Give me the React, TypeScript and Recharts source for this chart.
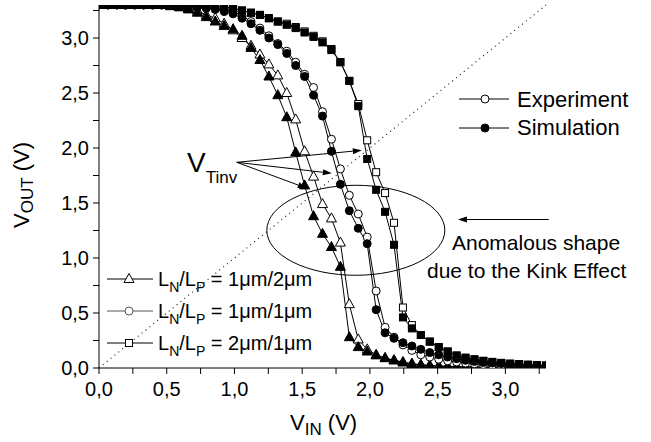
import React from "react";
import {
  LineChart,
  Line,
  XAxis,
  YAxis,
  ReferenceLine,
  ReferenceDot,
} from "recharts";

// input voltage sweep (V), shared by every curve
const VIN = [
  0.0, 0.066, 0.132, 0.198, 0.264, 0.33, 0.396, 0.462, 0.528, 0.594,
  0.66, 0.726, 0.792, 0.858, 0.924, 0.99, 1.056, 1.122, 1.188, 1.254,
  1.32, 1.386, 1.452, 1.518, 1.584, 1.65, 1.716, 1.782, 1.848, 1.914,
  1.98, 2.046, 2.112, 2.178, 2.244, 2.31, 2.376, 2.442, 2.508, 2.574,
  2.64, 2.706, 2.772, 2.838, 2.904, 2.97, 3.036, 3.102, 3.168, 3.234, 3.3,
];

// LN/LP = 1um/2um (triangles)
const A_EXP = [
  3.3, 3.3, 3.3, 3.3, 3.3, 3.3, 3.3, 3.3, 3.29, 3.28,
  3.27, 3.25, 3.21, 3.18, 3.13, 3.07, 3.0, 2.93, 2.85, 2.76,
  2.66, 2.5, 2.26, 1.97, 1.74, 1.49, 1.36, 1.14, 0.58, 0.26,
  0.17, 0.12, 0.09, 0.07, 0.055, 0.04, 0.03, 0.025, 0.02, 0.016,
  0.013, 0.011, 0.01, 0.009, 0.008, 0.007, 0.006, 0.006, 0.005, 0.005, 0.005,
];
const A_SIM = [
  3.3, 3.3, 3.3, 3.3, 3.3, 3.3, 3.3, 3.3, 3.29, 3.28,
  3.26, 3.23, 3.19, 3.15, 3.11, 3.08, 3.02, 2.91, 2.8, 2.65,
  2.48, 2.28, 1.96, 1.66, 1.38, 1.22, 1.1, 0.92, 0.28, 0.19,
  0.15, 0.115, 0.09, 0.07, 0.05, 0.035, 0.027, 0.02, 0.016, 0.013,
  0.011, 0.01, 0.009, 0.008, 0.007, 0.006, 0.006, 0.005, 0.005, 0.005, 0.005,
];

// LN/LP = 1um/1um (circles)
const B_EXP = [
  3.3, 3.3, 3.3, 3.3, 3.3, 3.3, 3.3, 3.3, 3.3, 3.3,
  3.29, 3.29, 3.28, 3.27, 3.26, 3.24, 3.2, 3.15, 3.09, 3.02,
  2.95, 2.88, 2.78, 2.67, 2.55, 2.33, 2.08, 1.81, 1.57, 1.4,
  1.19, 0.7, 0.37, 0.28, 0.21, 0.16, 0.12, 0.1, 0.08, 0.065,
  0.055, 0.045, 0.038, 0.032, 0.027, 0.023, 0.02, 0.018, 0.015, 0.013, 0.012,
];
const B_SIM = [
  3.3, 3.3, 3.3, 3.3, 3.3, 3.3, 3.3, 3.3, 3.3, 3.3,
  3.29, 3.28, 3.27, 3.26, 3.24, 3.22, 3.18, 3.13, 3.07, 3.0,
  2.94, 2.86, 2.75, 2.65, 2.48, 2.29, 1.97, 1.67, 1.43, 1.27,
  1.13, 0.53, 0.32, 0.27, 0.23, 0.2, 0.17, 0.14, 0.12, 0.1,
  0.085, 0.07, 0.06, 0.05, 0.045, 0.04, 0.035, 0.03, 0.026, 0.023, 0.02,
];

// LN/LP = 2um/1um (squares)
const C_EXP = [
  3.3, 3.3, 3.3, 3.3, 3.3, 3.3, 3.3, 3.3, 3.3, 3.3,
  3.3, 3.3, 3.3, 3.29, 3.28, 3.27, 3.25, 3.23, 3.21, 3.18,
  3.15, 3.13, 3.1, 3.06, 3.02, 2.97, 2.9, 2.78, 2.61, 2.4,
  2.07, 1.78, 1.59, 1.32, 0.55, 0.39, 0.3, 0.24, 0.19, 0.15,
  0.11, 0.09, 0.075, 0.062, 0.052, 0.044, 0.038, 0.033, 0.029, 0.025, 0.022,
];
const C_SIM = [
  3.3, 3.3, 3.3, 3.3, 3.3, 3.3, 3.3, 3.3, 3.3, 3.3,
  3.3, 3.3, 3.3, 3.29, 3.28, 3.27, 3.25, 3.23, 3.21, 3.18,
  3.15, 3.12, 3.09, 3.05, 3.01, 2.96, 2.89, 2.78, 2.61, 2.38,
  1.9, 1.62, 1.42, 1.12, 0.46, 0.36, 0.3, 0.24, 0.19, 0.15,
  0.115, 0.095, 0.08, 0.066, 0.056, 0.047, 0.04, 0.035, 0.03, 0.026, 0.023,
];

const TICKS = [0, 0.25, 0.5, 0.75, 1, 1.25, 1.5, 1.75, 2, 2.25, 2.5, 2.75, 3, 3.25];

const FONT = "'Liberation Sans', Arial, sans-serif";

const data = VIN.map((v, i) => ({
  vin: v,
  aExp: A_EXP[i],
  aSim: A_SIM[i],
  bExp: B_EXP[i],
  bSim: B_SIM[i],
  cExp: C_EXP[i],
  cSim: C_SIM[i],
}));

// only every second tick carries a label
const fmt = (v: number) =>
  Math.abs((v * 2) % 1) < 1e-6 ? v.toFixed(1).replace(".", ",") : "";

function Marker({ cx, cy, shape, filled, stroke = "#000" }: any) {
  const fill = filled ? "#000" : "#fff";
  if (shape === "tri") {
    return (
      <polygon
        points={`${cx},${cy - 5.5} ${cx - 5},${cy + 3.5} ${cx + 5},${cy + 3.5}`}
        fill={fill}
        stroke={stroke}
        strokeWidth={1}
      />
    );
  }
  if (shape === "sq") {
    return (
      <rect x={cx - 3.5} y={cy - 3.5} width={7} height={7} fill={fill} stroke={stroke} strokeWidth={1} />
    );
  }
  return <circle cx={cx} cy={cy} r={4} fill={fill} stroke={stroke} strokeWidth={1} />;
}

const dotFor = (name: string, shape: string, filled: boolean) => (p: any) =>
  p.cx == null || p.cy == null ? (
    <g key={`${name}-${p.index}`} />
  ) : (
    <Marker key={`${name}-${p.index}`} cx={p.cx} cy={p.cy} shape={shape} filled={filled} />
  );

// line with a small filled arrowhead at (x2, y2)
function Arrow(props: any) {
  const { x1, y1, x2, y2 } = props;
  const a = Math.atan2(y2 - y1, x2 - x1);
  const len = 9;
  const w = 3;
  const bx = x2 - len * Math.cos(a);
  const by = y2 - len * Math.sin(a);
  const px = -Math.sin(a) * w;
  const py = Math.cos(a) * w;
  return (
    <g>
      <line x1={x1} y1={y1} x2={bx} y2={by} stroke="#000" strokeWidth={1} />
      <polygon points={`${x2},${y2} ${bx + px},${by + py} ${bx - px},${by - py}`} fill="#000" />
    </g>
  );
}

const SERIES = [
  { key: "aExp", shape: "tri", filled: false },
  { key: "aSim", shape: "tri", filled: true },
  { key: "bExp", shape: "circ", filled: false },
  { key: "bSim", shape: "circ", filled: true },
  { key: "cExp", shape: "sq", filled: false },
  { key: "cSim", shape: "sq", filled: true },
];

export default function App() {
  return (
    <div style={{ position: "absolute", left: 0, top: 0, width: 651, height: 442, background: "#fff" }}>
      <LineChart width={651} height={442} data={data} margin={{ top: 5, right: 105, bottom: 44, left: 39 }}>
        <XAxis
          type="number"
          dataKey="vin"
          domain={[0, 3.3]}
          ticks={TICKS}
          interval={0}
          tickFormatter={fmt}
          tickSize={6}
          tickMargin={8}
          height={30}
          stroke="#000"
          tick={{ fill: "#000", fontSize: 20, fontFamily: FONT }}
          allowDataOverflow
        />
        <YAxis
          type="number"
          domain={[0, 3.3]}
          ticks={TICKS}
          interval={0}
          tickFormatter={fmt}
          tickSize={6}
          tickMargin={4}
          width={60}
          stroke="#000"
          tick={{ fill: "#000", fontSize: 20, fontFamily: FONT }}
          allowDataOverflow
        />

        {/* VOUT = VIN diagonal */}
        <ReferenceLine
          segment={[{ x: 0, y: 0 }, { x: 3.3, y: 3.3 }]}
          stroke="#222"
          strokeWidth={1.2}
          strokeDasharray="1 4"
        />

        {/* ellipse around the kink region */}
        <ReferenceDot
          x={1.896}
          y={1.252}
          ifOverflow="visible"
          shape={(p: any) => (
            <ellipse cx={p.cx} cy={p.cy} rx={89} ry={45} fill="none" stroke="#000" strokeWidth={1} />
          )}
        />

        {/* VTinv arrows */}
        <ReferenceLine segment={[{ x: 1.017, y: 1.87 }, { x: 1.94, y: 1.979 }]} ifOverflow="visible" shape={Arrow} />
        <ReferenceLine segment={[{ x: 1.017, y: 1.87 }, { x: 1.719, y: 1.77 }]} ifOverflow="visible" shape={Arrow} />
        <ReferenceLine segment={[{ x: 1.017, y: 1.87 }, { x: 1.534, y: 1.634 }]} ifOverflow="visible" shape={Arrow} />
        {/* kink arrow */}
        <ReferenceLine segment={[{ x: 3.32, y: 1.35 }, { x: 2.65, y: 1.35 }]} ifOverflow="visible" shape={Arrow} />

        {SERIES.map((s) => (
          <Line
            key={s.key}
            dataKey={s.key}
            type="linear"
            stroke="#000"
            strokeWidth={1}
            dot={dotFor(s.key, s.shape, s.filled)}
            activeDot={false}
            isAnimationActive={false}
          />
        ))}
      </LineChart>

      <svg
        width={651}
        height={442}
        style={{ position: "absolute", left: 0, top: 0, pointerEvents: "none" }}
        fontFamily={FONT}
        fill="#000"
      >
        {/* axis titles */}
        <text x={290} y={430} fontSize={22}>
          V<tspan fontSize={17} dy={5}>IN</tspan>
          <tspan dy={-5}> (V)</tspan>
        </text>
        <text transform="translate(29,228) rotate(-90)" fontSize={22}>
          V<tspan fontSize={17} dy={4}>OUT</tspan>
          <tspan dy={-4}> (V)</tspan>
        </text>

        {/* VTinv label */}
        <text x={187} y={172} fontSize={28}>
          V<tspan fontSize={17} dy={11}>Tinv</tspan>
        </text>

        {/* experiment / simulation key */}
        <line x1={459} y1={99} x2={509} y2={99} stroke="#000" />
        <Marker cx={485} cy={99} shape="circ" filled={false} />
        <text x={517} y={107} fontSize={22}>Experiment</text>
        <line x1={459} y1={128} x2={509} y2={128} stroke="#000" />
        <Marker cx={485} cy={128} shape="circ" filled={true} />
        <text x={517} y={135} fontSize={22}>Simulation</text>

        {/* kink annotation */}
        <text x={452} y={250} fontSize={21}>Anomalous shape</text>
        <text x={427} y={278} fontSize={21}>due to the Kink Effect</text>

        {/* device size key */}
        <line x1={107} y1={279} x2={153} y2={279} stroke="#000" />
        <Marker cx={129} cy={279} shape="tri" filled={false} />
        <text x={158} y={286} fontSize={20}>
          L<tspan fontSize={14} dy={6}>N</tspan>
          <tspan dy={-6}>/L</tspan>
          <tspan fontSize={14} dy={6}>P</tspan>
          <tspan dy={-6}> = 1μm/2μm</tspan>
        </text>
        <line x1={107} y1={311} x2={153} y2={311} stroke="#555" />
        <Marker cx={129} cy={311} shape="circ" filled={false} stroke="#555" />
        <text x={158} y={318} fontSize={20}>
          L<tspan fontSize={14} dy={6}>N</tspan>
          <tspan dy={-6}>/L</tspan>
          <tspan fontSize={14} dy={6}>P</tspan>
          <tspan dy={-6}> = 1μm/1μm</tspan>
        </text>
        <line x1={107} y1={343} x2={153} y2={343} stroke="#000" />
        <Marker cx={129} cy={343} shape="sq" filled={false} />
        <text x={158} y={350} fontSize={20}>
          L<tspan fontSize={14} dy={6}>N</tspan>
          <tspan dy={-6}>/L</tspan>
          <tspan fontSize={14} dy={6}>P</tspan>
          <tspan dy={-6}> = 2μm/1μm</tspan>
        </text>
      </svg>
    </div>
  );
}
